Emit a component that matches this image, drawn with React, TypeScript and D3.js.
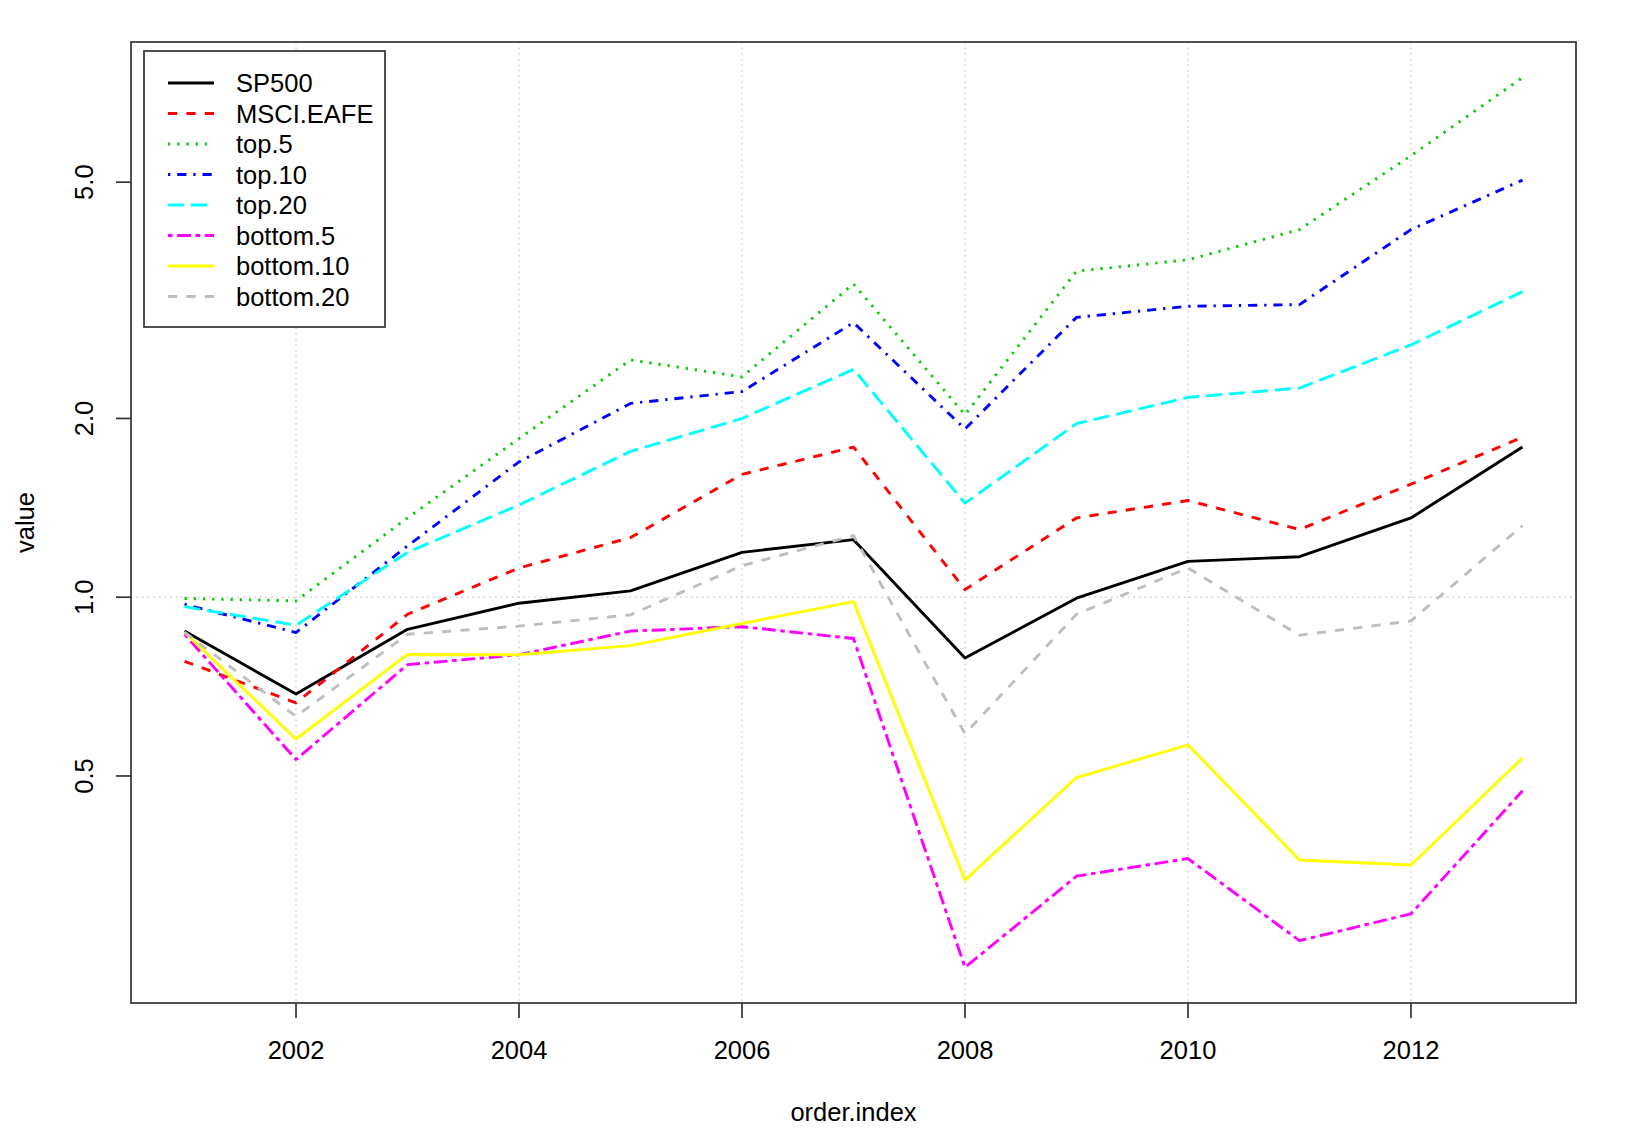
import React, { useEffect, useRef } from "react";
import * as d3 from "d3";

const years = [2001, 2002, 2003, 2004, 2005, 2006, 2007, 2008, 2009, 2010, 2011, 2012, 2013];

const seriesNames = ["SP500", "MSCI.EAFE", "top.5", "top.10", "top.20", "bottom.5", "bottom.10", "bottom.20"];

const sp500 = [0.877, 0.687, 0.883, 0.977, 1.025, 1.19, 1.25, 0.79, 0.996, 1.149, 1.17, 1.36, 1.79];
const msciEafe = [0.78, 0.664, 0.936, 1.12, 1.26, 1.61, 1.79, 1.03, 1.36, 1.455, 1.3, 1.55, 1.86];
const top5 = [0.995, 0.986, 1.36, 1.85, 2.51, 2.35, 3.37, 2.03, 3.54, 3.7, 4.16, 5.54, 7.5];
const top10 = [0.973, 0.872, 1.22, 1.69, 2.12, 2.22, 2.9, 1.92, 2.96, 3.09, 3.11, 4.16, 5.04];
const top20 = [0.964, 0.897, 1.19, 1.43, 1.76, 2.0, 2.42, 1.44, 1.96, 2.17, 2.25, 2.66, 3.27];
const bottom5 = [0.866, 0.533, 0.77, 0.8, 0.877, 0.892, 0.852, 0.238, 0.339, 0.363, 0.264, 0.293, 0.472];
const bottom10 = [0.873, 0.577, 0.801, 0.8, 0.829, 0.903, 0.983, 0.334, 0.497, 0.564, 0.361, 0.354, 0.536];
const bottom20 = [0.873, 0.63, 0.866, 0.894, 0.934, 1.13, 1.27, 0.589, 0.936, 1.12, 0.863, 0.912, 1.32];

const seriesValues = [sp500, msciEafe, top5, top10, top20, bottom5, bottom10, bottom20];

const xTicks = [2002, 2004, 2006, 2008, 2010, 2012];
const yTicks = [0.5, 1.0, 2.0, 5.0];
const yTickLabels = ["0.5", "1.0", "2.0", "5.0"];

// R palette 1:8 and lty 1:6 recycled
const colors = ["#000000", "#FF0000", "#00CD00", "#0000FF", "#00FFFF", "#FF00FF", "#FFFF00", "#BEBEBE"];
const u = 2.3;
const dashes = [
  "none",
  `${4 * u},${4 * u}`,
  `${1 * u},${3 * u}`,
  `${1 * u},${3 * u},${4 * u},${3 * u}`,
  `${7 * u},${3 * u}`,
  `${2 * u},${2 * u},${6 * u},${2 * u}`,
  "none",
  `${4 * u},${4 * u}`,
];

const W = 1642;
const H = 1133;
const FONT = "'Liberation Sans', Arial, sans-serif";
const FS = 25.5;

const App: React.FC = () => {
  const svgRef = useRef<SVGSVGElement>(null);

  useEffect(() => {
    document.body.style.margin = "0";
    if (!svgRef.current) return;
    const svg = d3.select(svgRef.current);
    svg.selectAll("*").remove();

    const left = 131;
    const right = 1576;
    const top = 42;
    const bottom = 1003;

    // R style 4% axis expansion
    const [x0, x1] = d3.extent(years) as [number, number];
    const xPad = (x1 - x0) * 0.04;
    const x = d3.scaleLinear().domain([x0 - xPad, x1 + xPad]).range([left, right]);

    const all = seriesValues.flat();
    const lo = Math.log(d3.min(all) as number);
    const hi = Math.log(d3.max(all) as number);
    const yPad = (hi - lo) * 0.04;
    const y = d3
      .scaleLog()
      .domain([Math.exp(lo - yPad), Math.exp(hi + yPad)])
      .range([bottom, top]);

    svg.append("rect").attr("width", W).attr("height", H).attr("fill", "white");

    // grid
    const grid = svg.append("g").attr("stroke", "#cfcfcf").attr("stroke-width", 1.4).attr("stroke-dasharray", "1.6,4");
    xTicks.forEach((t) => {
      grid.append("line").attr("x1", x(t)).attr("x2", x(t)).attr("y1", top).attr("y2", bottom);
    });
    grid.append("line").attr("x1", left).attr("x2", right).attr("y1", y(1)).attr("y2", y(1));

    // series
    const line = d3
      .line<number>()
      .x((_, i) => x(years[i]))
      .y((d) => y(d));

    seriesValues.forEach((vals, i) => {
      svg
        .append("path")
        .datum(vals)
        .attr("d", line)
        .attr("fill", "none")
        .attr("stroke", colors[i])
        .attr("stroke-width", 2.9)
        .attr("stroke-dasharray", dashes[i])
        .attr("stroke-linejoin", "round");
    });

    // frame
    svg
      .append("rect")
      .attr("x", left)
      .attr("y", top)
      .attr("width", right - left)
      .attr("height", bottom - top)
      .attr("fill", "none")
      .attr("stroke", "#333")
      .attr("stroke-width", 1.7);

    // x axis
    const xa = svg.append("g");
    xTicks.forEach((t) => {
      xa.append("line")
        .attr("x1", x(t))
        .attr("x2", x(t))
        .attr("y1", bottom)
        .attr("y2", bottom + 15)
        .attr("stroke", "#333")
        .attr("stroke-width", 1.7);
      xa.append("text")
        .attr("x", x(t))
        .attr("y", bottom + 56)
        .attr("text-anchor", "middle")
        .attr("font-family", FONT)
        .attr("font-size", FS)
        .text(String(t));
    });

    // y axis
    const ya = svg.append("g");
    yTicks.forEach((t, i) => {
      ya.append("line")
        .attr("x1", left - 15)
        .attr("x2", left)
        .attr("y1", y(t))
        .attr("y2", y(t))
        .attr("stroke", "#333")
        .attr("stroke-width", 1.7);
      ya.append("text")
        .attr("transform", `translate(${left - 38},${y(t)}) rotate(-90)`)
        .attr("text-anchor", "middle")
        .attr("font-family", FONT)
        .attr("font-size", FS)
        .text(yTickLabels[i]);
    });

    // axis titles
    svg
      .append("text")
      .attr("x", (left + right) / 2)
      .attr("y", 1121)
      .attr("text-anchor", "middle")
      .attr("font-family", FONT)
      .attr("font-size", FS)
      .text("order.index");
    svg
      .append("text")
      .attr("transform", `translate(34,${(top + bottom) / 2}) rotate(-90)`)
      .attr("text-anchor", "middle")
      .attr("font-family", FONT)
      .attr("font-size", FS)
      .text("value");

    // legend
    const lg = svg.append("g");
    lg.append("rect")
      .attr("x", 144)
      .attr("y", 51)
      .attr("width", 241)
      .attr("height", 276)
      .attr("fill", "white")
      .attr("stroke", "#333")
      .attr("stroke-width", 1.7);
    seriesNames.forEach((name, i) => {
      const ry = 83 + i * 30.5;
      lg.append("line")
        .attr("x1", 168)
        .attr("x2", 214)
        .attr("y1", ry)
        .attr("y2", ry)
        .attr("stroke", colors[i])
        .attr("stroke-width", 2.9)
        .attr("stroke-dasharray", dashes[i]);
      lg.append("text")
        .attr("x", 236)
        .attr("y", ry + 9)
        .attr("font-family", FONT)
        .attr("font-size", FS)
        .text(name);
    });
  }, []);

  return <svg ref={svgRef} width={W} height={H} style={{ display: "block" }} />;
};

export default App;
